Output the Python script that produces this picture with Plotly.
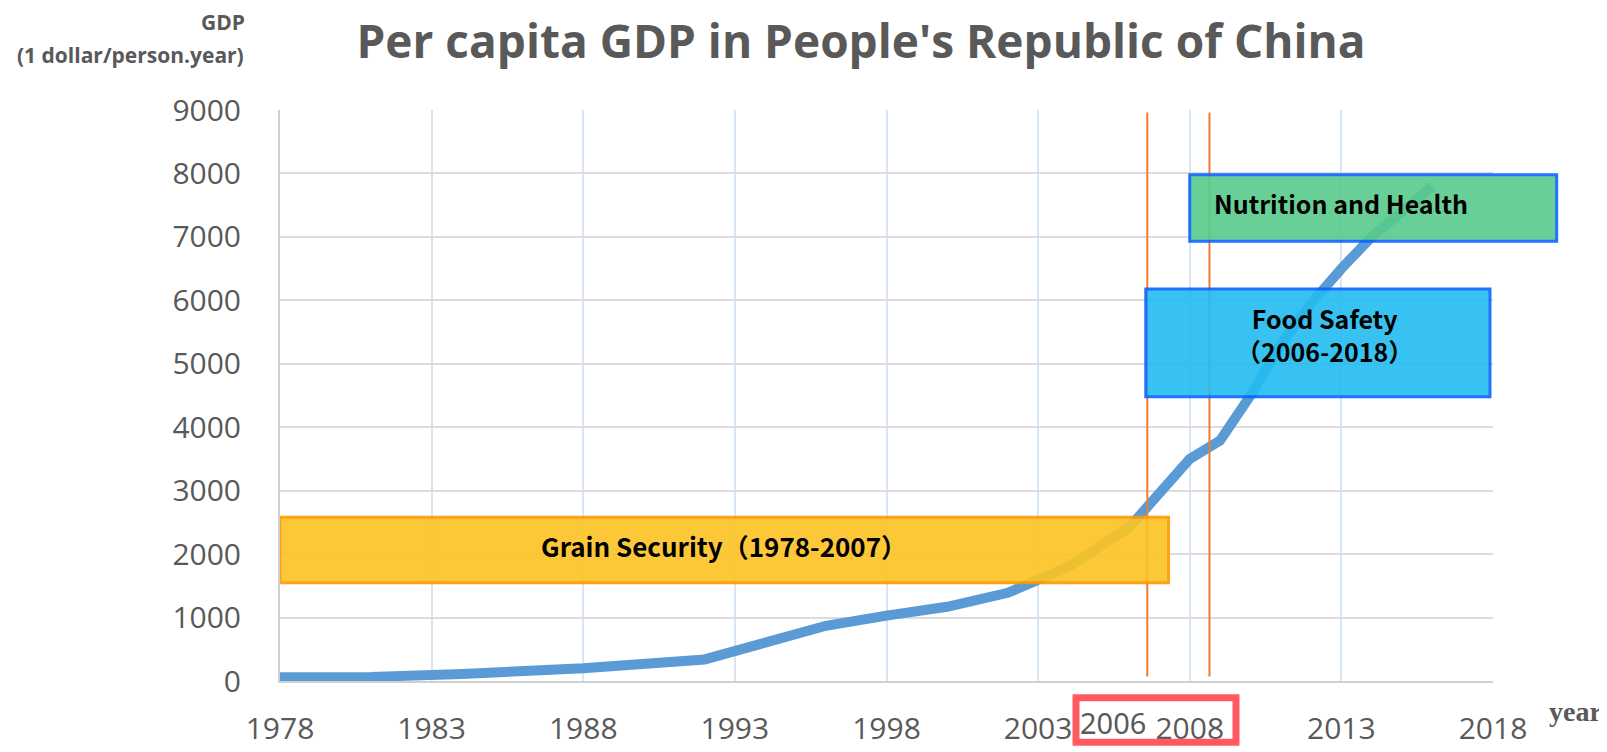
import plotly.graph_objects as go

# GDP per capita line
years = [1978, 1981, 1984, 1988, 1992, 1996, 1998, 2000, 2002, 2004, 2006, 2008,
         2009, 2010, 2011, 2012, 2013, 2014, 2015, 2016]
gdp = [60, 65, 110, 200, 340, 870, 1030, 1170, 1390, 1800, 2420, 3500,
       3790, 4500, 5300, 5950, 6500, 7000, 7400, 7800]

x_ticks = [1978, 1983, 1988, 1993, 1998, 2003, 2008, 2013, 2018]
y_ticks = [0, 1000, 2000, 3000, 4000, 5000, 6000, 7000, 8000, 9000]

# period markers
marker_years = [2006.6, 2008.65]

# stage boxes: (label, x0, x1, y0, y1)
grain_box = ("Grain Security（1978-2007）", 1978, 2007.3, 1550, 2580)
food_box = ("Food Safety<br>（2006-2018）", 2006.55, 2017.9, 4480, 6180)
nutrition_box = ("Nutrition and Health", 2008.0, 2020.1, 6930, 7980)

W, H = 1607, 752
OFF = 8  # page body margin pushes the figure 8px right and down
# plot area in screen pixels: x 280..1493, y 110..688
L, T = 280 - OFF, 110 - OFF
R, B = W - (1493 - OFF), H - (688 - OFF)
PW, PH = W - L - R, H - T - B
X0, X1 = 1978, 2018

GRAY = "#595959"


def px(sx):
    # screen x pixel -> paper x
    return (sx - OFF - L) / PW


def py(sy):
    # screen y pixel -> paper y
    return 1 - (sy - OFF - T) / PH


def to_paper_x(year):
    return (year - X0) / (X1 - X0)


fig = go.Figure()

fig.add_trace(go.Scatter(
    x=years, y=gdp, mode="lines",
    line=dict(color="#5B9BD5", width=10, shape="linear"),
    hoverinfo="skip", showlegend=False,
))

for xv in marker_years:
    fig.add_shape(type="line", xref="x", yref="y", x0=xv, x1=xv, y0=70, y1=8960,
                  line=dict(color="#ED7D31", width=2), layer="above")

box_styles = [
    (grain_box, "#FDC322", "#FF9900", "x"),
    (food_box, "#22BCF0", "#0A63FF", "x"),
    (nutrition_box, "#58CB8C", "#0A63FF", "paper"),
]

for (label, bx0, bx1, by0, by1), fill, edge, xref in box_styles:
    if xref == "paper":
        sx0, sx1 = to_paper_x(bx0), to_paper_x(bx1)
    else:
        sx0, sx1 = bx0, bx1
    fig.add_shape(type="rect", xref=xref, yref="y", x0=sx0, x1=sx1, y0=by0, y1=by1,
                  fillcolor=fill, line=dict(color=edge, width=3),
                  opacity=0.9, layer="above")

# box labels
box_font = dict(family="Noto Sans CJK SC", size=25, color="black")
fig.add_annotation(x=(grain_box[1] + grain_box[2]) / 2, y=2140, xref="x", yref="y",
                   text="<b>" + grain_box[0] + "</b>", showarrow=False,
                   font=dict(family="Noto Sans CJK SC", size=26, color="black"))
fig.add_annotation(x=2012.45, y=5460, xref="x", yref="y",
                   text="<b>Food Safety</b><br><b>（2006-2018）</b>", showarrow=False,
                   font=box_font)
fig.add_annotation(x=2008.73, y=7530, xref="x", yref="y", xanchor="left",
                   text="<b>" + nutrition_box[0] + "</b>", showarrow=False,
                   font=box_font)

# highlighted 2006 / 2008 labels under the axis
fig.add_shape(type="rect", xref="paper", yref="paper",
              x0=px(1076), x1=px(1236), y0=py(750), y1=py(705),
              line=dict(color="#FF5A5F", width=7), fillcolor="rgba(0,0,0,0)")
fig.add_annotation(x=px(1113), y=py(730), xref="paper", yref="paper",
                   xanchor="center", yanchor="middle",
                   text="2006", showarrow=False,
                   font=dict(family="Noto Sans", size=29, color=GRAY))

# axis titles
fig.add_annotation(x=px(246), y=py(21), xref="paper", yref="paper",
                   xanchor="right", yanchor="middle", borderpad=0,
                   text="<b>GDP</b>", showarrow=False,
                   font=dict(family="Open Sans", size=21, color=GRAY))
fig.add_annotation(x=px(246), y=py(54), xref="paper", yref="paper",
                   xanchor="right", yanchor="middle",
                   text="<b>(1 dollar/person.year)</b>", showarrow=False,
                   font=dict(family="Open Sans", size=21, color=GRAY))
fig.add_annotation(x=px(1575), y=py(719), xref="paper", yref="paper",
                   xanchor="center", yanchor="middle",
                   text="<b>year</b>", showarrow=False,
                   font=dict(family="Liberation Serif", size=28, color=GRAY))

fig.update_layout(
    width=W, height=H,
    margin=dict(l=L, r=R, t=T, b=B),
    paper_bgcolor="white", plot_bgcolor="white",
    title=dict(text="<b>Per capita GDP in People's Republic of China</b>",
               x=(861 - OFF) / W, xanchor="center", y=1 - (42 - OFF) / H, yanchor="middle",
               font=dict(family="Open Sans", size=46, color=GRAY)),
    showlegend=False,
)

fig.update_xaxes(range=[X0, X1], tickvals=x_ticks, ticktext=[str(v) for v in x_ticks],
                 showgrid=True, gridcolor="#D6E6F5", gridwidth=1.5,
                 showline=True, linecolor="#D0D0D0", linewidth=2,
                 ticks="", ticklabelstandoff=20,
                 tickfont=dict(family="Open Sans", size=30, color=GRAY),
                 zeroline=False)
fig.update_yaxes(range=[0, 9000], tickvals=y_ticks,
                 showgrid=True, gridcolor="#DCDCDC", gridwidth=2,
                 showline=True, linecolor="#D0D0D0", linewidth=2,
                 ticks="", ticklabelstandoff=31,
                 tickfont=dict(family="Open Sans", size=30, color=GRAY),
                 zeroline=False)

fig.write_html("out.html")
